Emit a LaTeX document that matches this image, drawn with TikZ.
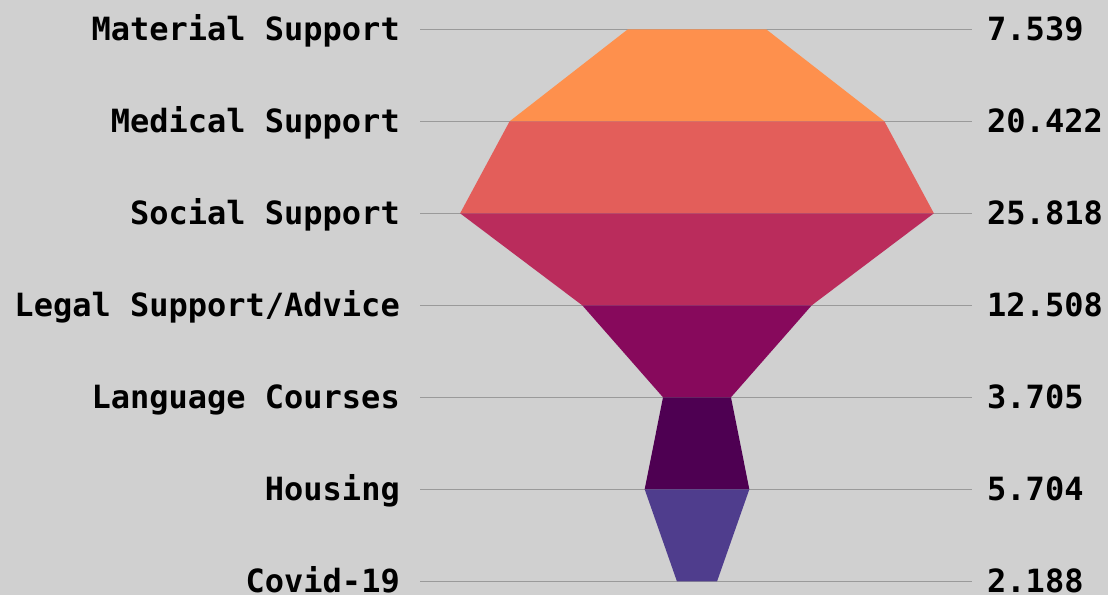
\documentclass[tikz,border=0pt]{standalone}
\usepackage{fontspec}
\setmonofont{DejaVu Sans Mono}
\usetikzlibrary{calc}
\definecolor{paper}{HTML}{D0D0D0}
\definecolor{rule}{HTML}{9A9A9A}
\definecolor{segA}{HTML}{FE904D}
\definecolor{segB}{HTML}{E35E5A}
\definecolor{segC}{HTML}{BA2C5C}
\definecolor{segD}{HTML}{87095C}
\definecolor{segE}{HTML}{4E0052}
\definecolor{segF}{HTML}{4F3D8D}
\begin{document}
\begin{tikzpicture}[x=1pt,y=-1pt,
    lbl/.style={font=\ttfamily\bfseries\fontsize{32}{38}\selectfont,inner sep=0pt},
    guide/.style={draw=rule,line width=1pt}]
        %% background
        \fill[paper] (0,0) rectangle (1108,595);
        \useasboundingbox (0,0) rectangle (1108,595);
        %% labels, values and guide lines
        \foreach \i/\t/\v in {0/Material Support/7.539,1/Medical Support/20.422,
            2/Social Support/25.818,3/Legal Support\slash Advice/12.508,
            4/Language Courses/3.705,5/Housing/5.704,6/Covid-19/2.188} {
            \coordinate (r\i) at (697,{29.3+92*\i});
            \node[lbl,anchor=base east] (l\i) at (400,{40.8+92*\i}) {\t};
            \node[lbl,anchor=base west] (v\i) at (987,{40.8+92*\i}) {\v};
            \draw[guide] ($(l\i.east |- r\i)+(20,0)$) -- ($(v\i.west |- r\i)+(-15,0)$);
        }
        %% funnel
        \foreach \i/\a/\b/\c in {0/7.539/20.422/segA,1/20.422/25.818/segB,
            2/25.818/12.508/segC,3/12.508/3.705/segD,4/3.705/5.704/segE,5/5.704/2.188/segF} {
            \fill[\c] ({697-9.175*\a},{29.3+92*\i}) -- ({697+9.175*\a},{29.3+92*\i})
                -- ({697+9.175*\b},{121.3+92*\i}) -- ({697-9.175*\b},{121.3+92*\i}) -- cycle;
        }
    \end{tikzpicture}
\end{document}
